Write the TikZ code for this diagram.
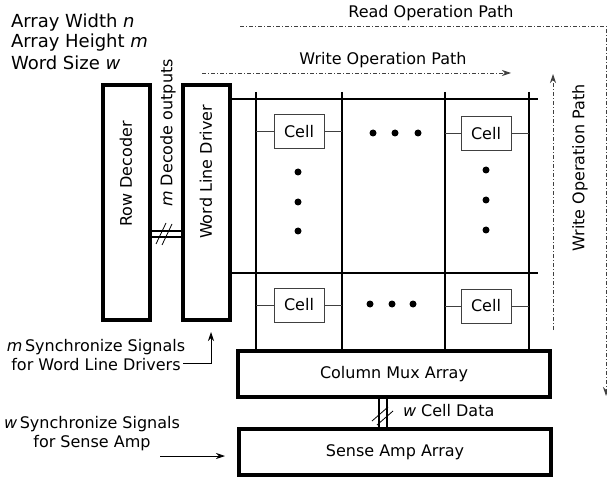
\documentclass[tikz,border=0pt]{standalone}
\usepackage{fontspec}
\setmainfont{DejaVu Sans}
\usetikzlibrary{arrows.meta,calc}

\begin{document}
\begin{tikzpicture}[x=1pt,y=-1pt,
  every node/.style={font=\fontsize{16}{19}\selectfont, inner sep=0pt, outer sep=0pt},
  legend/.style={anchor=west, font=\fontsize{18}{20}\selectfont},
  thickbox/.style={draw, line width=4pt},
  cellbox/.style={draw=black!75, line width=1pt, minimum width=50pt, minimum height=34pt, fill=white},
  wire/.style={line width=1.3pt},
  stub/.style={draw=black!75, line width=1pt},
  pathline/.style={line width=0.9pt, draw=black!75, dash pattern=on 4pt off 2pt on 1pt off 2pt},
  tip/.style={-{Stealth[length=9pt,width=6pt]}},
  dotmark/.style={circle, fill, minimum size=7pt}
]
\useasboundingbox (0,0) rectangle (607,478);

% parameter legend
\node[legend] (aw) at (11,23) {Array Width \textit{n}};
\node[legend] (ah) at (11,43) {Array Height \textit{m}};
\node[legend] (ws) at (11,63) {Word Size \textit{w}};

% main blocks
\node[thickbox, minimum width=47pt, minimum height=235pt] (rd) at (126.5,202.5) {};
\node[thickbox, minimum width=47pt, minimum height=235pt] (wld) at (206.5,202.5) {};
\node[thickbox, minimum width=312pt, minimum height=46pt] (cm) at (394,374) {Column Mux Array};
\node[thickbox, minimum width=312pt, minimum height=46pt] (sa) at (395,452) {Sense Amp Array};
\node[rotate=90] (rdlabel) at (126,174) {Row Decoder};
\node[rotate=90] (wldlabel) at (206,172) {Word Line Driver};

% decode bus between decoder and drivers
\coordinate (db1) at (0,231);
\coordinate (db2) at (0,237);
\draw[wire] (rd.east |- db1) -- (wld.west |- db1);
\draw[wire] (rd.east |- db2) -- (wld.west |- db2);
\coordinate (ds1a) at (156,244); \coordinate (ds1b) at (166,223);
\coordinate (ds2a) at (162,245); \coordinate (ds2b) at (172,224);
\draw[line width=0.8pt] (ds1a) -- (ds1b);
\draw[line width=0.8pt] (ds2a) -- (ds2b);
\node[rotate=90] (declabel) at (168,133) {\textit{m} Decode outputs};

% word lines
\coordinate (wl1) at (0,99);
\coordinate (wl2) at (0,273);
\coordinate (wl1e) at (538,99);
\coordinate (wl2e) at (538,273);
\draw[wire] (wld.east |- wl1) -- (wl1e);
\draw[wire] (wld.east |- wl2) -- (wl2e);

% bit lines
\foreach \bx [count=\i] in {256,342,445,529} {
  \coordinate (bt\i) at (\bx,92);
  \draw[wire] (bt\i) -- (bt\i |- cm.north);
}

% memory cells
\node[cellbox] (c11) at (299,132) {Cell};
\node[cellbox] (c12) at (486,134) {Cell};
\node[cellbox] (c21) at (299,305) {Cell};
\node[cellbox] (c22) at (486,306) {Cell};

\foreach \c/\l/\r/\w in {c11/bt1/bt2/wl1, c12/bt3/bt4/wl1, c21/bt1/bt2/wl2, c22/bt3/bt4/wl2} {
  \draw[stub] (\c.west) -- (\c.west -| \l);
  \draw[stub] (\c.east) -- (\c.east -| \r);
  \draw[stub] ($(\c.north)+(-10,0)$) -- ($(\c.north)+(-10,0)$ |- \w);
  \draw[stub] ($(\c.north)+(10,0)$) -- ($(\c.north)+(10,0)$ |- \w);
}

% ellipsis dots
\foreach \p in {(373,133),(395,133),(418,133),(370,304),(392,304),(413,304),
                (298,172),(298,202),(298,231),(486,170),(486,200),(486,230)}
  \node[dotmark] at \p {};

% data bus between mux and sense amps
\coordinate (cb1) at (379,0);
\coordinate (cb2) at (387,0);
\draw[wire] (cm.south -| cb1) -- (sa.north -| cb1);
\draw[wire] (cm.south -| cb2) -- (sa.north -| cb2);
\coordinate (cs1a) at (372,421); \coordinate (cs1b) at (388,407);
\coordinate (cs2a) at (377,425); \coordinate (cs2b) at (393,411);
\draw[line width=0.8pt] (cs1a) -- (cs1b);
\draw[line width=0.8pt] (cs2a) -- (cs2b);
\node[anchor=west] (cdlabel) at (403,411) {\textit{w} Cell Data};

% synchronize signals
\node[align=center] (syncw) at (96,355) {\textit{m}\,Synchronize Signals\\for Word Line Drivers};
\coordinate (sw0) at (183,363);
\coordinate (sw1) at (211,363);
\coordinate (sw2) at (211,332);
\draw[line width=0.8pt, tip] (sw0) -- (sw1) -- (sw2);

\node[align=center] (syncs) at (92,434) {\textit{w}\,Synchronize Signals\\for Sense Amp};
\coordinate (ss0) at (160,456);
\coordinate (ss1) at (225,456);
\draw[line width=0.8pt, tip] (ss0) -- (ss1);

% operation paths
\coordinate (rp0) at (240,26);
\coordinate (rp1) at (606,26);
\coordinate (rp2) at (606,396);
\draw[pathline, tip] (rp0) -- (rp1) -- (rp2);
\node (rplabel) at (431,13) {Read Operation Path};

\coordinate (wp0) at (202,73);
\coordinate (wp1) at (511,73);
\draw[pathline, tip] (wp0) -- (wp1);
\node (wplabel) at (383,60) {Write Operation Path};

\coordinate (wv0) at (553,330);
\coordinate (wv1) at (553,74);
\draw[pathline, tip] (wv0) -- (wv1);
\node[rotate=90] (wvlabel) at (580,168) {Write Operation Path};
\end{tikzpicture}
\end{document}
